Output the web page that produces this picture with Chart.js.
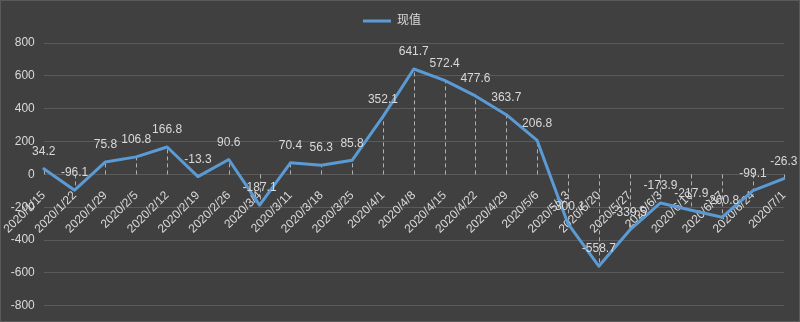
<!DOCTYPE html>
<html>
<head>
<meta charset="utf-8">
<script src="https://cdn.jsdelivr.net/npm/chart.js@4/dist/chart.umd.min.js"></script>
<style>
  html, body { margin: 0; padding: 0; background: #404040; }
  #wrap { width: 800px; height: 322px; }
</style>
</head>
<body>
<div id="wrap"><canvas id="grafico"></canvas></div>
<script>
// fechas semanales y valores de la serie
const fechas = ['2020/1/15', '2020/1/22', '2020/1/29', '2020/2/5', '2020/2/12', '2020/2/19', '2020/2/26',
  '2020/3/4', '2020/3/11', '2020/3/18', '2020/3/25', '2020/4/1', '2020/4/8', '2020/4/15', '2020/4/22',
  '2020/4/29', '2020/5/6', '2020/5/13', '2020/5/20', '2020/5/27', '2020/6/3', '2020/6/10', '2020/6/17',
  '2020/6/24', '2020/7/1'];
const valores = [34.2, -96.1, 75.8, 106.8, 166.8, -13.3, 90.6, -187.1, 70.4, 56.3, 85.8, 352.1, 641.7,
  572.4, 477.6, 363.7, 206.8, -300.1, -558.7, -339.5, -173.9, -217.9, -260.8, -99.1, -26.3];
const nombreSerie = '现值';
const marcasY = [-800, -600, -400, -200, 0, 200, 400, 600, 800];

const colorLinea = '#5b9bd5';
const colorTexto = '#d9d9d9';
const fuente = { family: "'Liberation Sans', 'Noto Sans CJK SC', sans-serif", size: 12 };

// fondo oscuro con borde
const fondo = {
  id: 'fondo',
  beforeDraw(chart) {
    const ctx = chart.ctx;
    ctx.save();
    ctx.fillStyle = '#404040';
    ctx.fillRect(0, 0, chart.width, chart.height);
    ctx.strokeStyle = '#5a5a5a';
    ctx.lineWidth = 1;
    ctx.strokeRect(0.5, 0.5, chart.width - 1, chart.height - 1);
    ctx.restore();
  }
};

// lineas discontinuas desde cada punto hasta el cero
const lineasCaida = {
  id: 'lineasCaida',
  beforeDatasetsDraw(chart) {
    const ctx = chart.ctx;
    const y0 = chart.scales.y.getPixelForValue(0);
    const puntos = chart.getDatasetMeta(0).data;
    ctx.save();
    ctx.strokeStyle = '#b0b0b0';
    ctx.lineWidth = 1;
    ctx.setLineDash([4, 3]);
    puntos.forEach(p => {
      const x = Math.round(p.x) + 0.5;
      ctx.beginPath();
      ctx.moveTo(x, y0);
      ctx.lineTo(x, p.y);
      ctx.stroke();
    });
    ctx.restore();
  }
};

// etiquetas de valor encima de cada punto
const etiquetas = {
  id: 'etiquetas',
  afterDatasetsDraw(chart) {
    const ctx = chart.ctx;
    const puntos = chart.getDatasetMeta(0).data;
    ctx.save();
    ctx.font = fuente.size + 'px ' + fuente.family;
    ctx.fillStyle = colorTexto;
    ctx.textAlign = 'center';
    ctx.textBaseline = 'middle';
    puntos.forEach((p, i) => {
      ctx.fillText(String(valores[i]), p.x, p.y - 17);
    });
    ctx.restore();
  }
};

// mas espacio bajo la leyenda
const espacioLeyenda = {
  id: 'espacioLeyenda',
  beforeInit(chart) {
    const fitOriginal = chart.legend.fit;
    chart.legend.fit = function () {
      fitOriginal.bind(chart.legend)();
      this.height += 6;
    };
  }
};

new Chart(document.getElementById('grafico'), {
  type: 'line',
  data: {
    labels: fechas,
    datasets: [{
      label: nombreSerie,
      data: valores,
      borderColor: colorLinea,
      backgroundColor: colorLinea,
      borderWidth: 3,
      pointRadius: 0,
      tension: 0,
      borderJoinStyle: 'round',
      borderCapStyle: 'round'
    }]
  },
  options: {
    responsive: true,
    maintainAspectRatio: false,
    animation: false,
    layout: { padding: { top: 5, right: 16, bottom: 16, left: 0 } },
    plugins: {
      legend: {
        position: 'top',
        labels: {
          color: colorTexto,
          font: fuente,
          boxWidth: 28,
          boxHeight: 3,
          padding: 10,
          generateLabels(chart) {
            return [{
              text: nombreSerie,
              fillStyle: colorLinea,
              strokeStyle: colorLinea,
              lineWidth: 0,
              fontColor: colorTexto,
              datasetIndex: 0
            }];
          }
        }
      },
      tooltip: { enabled: false }
    },
    scales: {
      x: {
        type: 'category',
        position: { y: 0 },
        offset: false,
        grid: { display: false },
        border: { display: false },
        ticks: {
          color: colorTexto,
          font: fuente,
          autoSkip: false,
          minRotation: 45,
          maxRotation: 45,
          padding: 6
        }
      },
      y: {
        min: -800,
        max: 800,
        afterBuildTicks(axis) {
          axis.ticks = marcasY.map(v => ({ value: v }));
        },
        afterFit(axis) {
          axis.width = 42;
        },
        grid: { color: '#5a5a5a', lineWidth: 1, drawTicks: false },
        border: { display: false },
        ticks: { color: colorTexto, font: fuente, padding: 9 }
      }
    }
  },
  plugins: [fondo, lineasCaida, etiquetas, espacioLeyenda]
});
</script>
</body>
</html>
